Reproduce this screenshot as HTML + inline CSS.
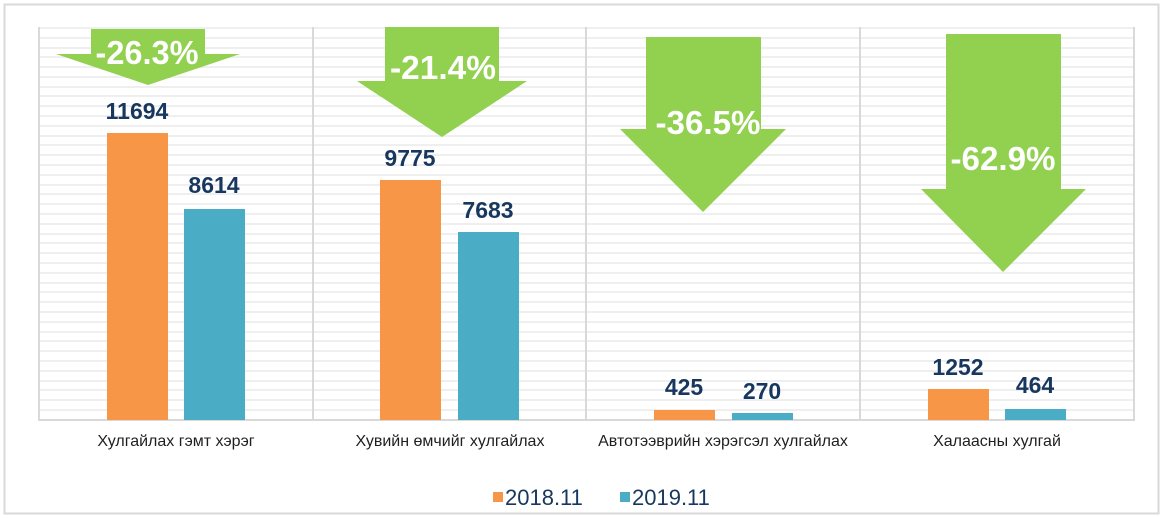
<!DOCTYPE html>
<html><head><meta charset="utf-8"><style>
html,body{margin:0;padding:0;background:#fff;}
svg{display:block;font-family:"Liberation Sans",Arial,sans-serif;}
</style></head><body>
<svg width="1164" height="518" viewBox="0 0 1164 518" xmlns="http://www.w3.org/2000/svg">
<rect x="4.5" y="4.5" width="1154" height="509" fill="#fff" stroke="#d9d9d9" stroke-width="2"/>
<g stroke="#efefef" stroke-width="2">
<line x1="38" x2="1135" y1="28" y2="28"/><line x1="38" x2="1135" y1="38" y2="38"/><line x1="38" x2="1135" y1="48" y2="48"/><line x1="38" x2="1135" y1="57" y2="57"/><line x1="38" x2="1135" y1="67" y2="67"/><line x1="38" x2="1135" y1="77" y2="77"/><line x1="38" x2="1135" y1="87" y2="87"/><line x1="38" x2="1135" y1="96" y2="96"/><line x1="38" x2="1135" y1="106" y2="106"/><line x1="38" x2="1135" y1="116" y2="116"/><line x1="38" x2="1135" y1="126" y2="126"/><line x1="38" x2="1135" y1="136" y2="136"/><line x1="38" x2="1135" y1="145" y2="145"/><line x1="38" x2="1135" y1="155" y2="155"/><line x1="38" x2="1135" y1="165" y2="165"/><line x1="38" x2="1135" y1="175" y2="175"/><line x1="38" x2="1135" y1="185" y2="185"/><line x1="38" x2="1135" y1="194" y2="194"/><line x1="38" x2="1135" y1="204" y2="204"/><line x1="38" x2="1135" y1="214" y2="214"/><line x1="38" x2="1135" y1="224" y2="224"/><line x1="38" x2="1135" y1="234" y2="234"/><line x1="38" x2="1135" y1="243" y2="243"/><line x1="38" x2="1135" y1="253" y2="253"/><line x1="38" x2="1135" y1="263" y2="263"/><line x1="38" x2="1135" y1="273" y2="273"/><line x1="38" x2="1135" y1="283" y2="283"/><line x1="38" x2="1135" y1="292" y2="292"/><line x1="38" x2="1135" y1="302" y2="302"/><line x1="38" x2="1135" y1="312" y2="312"/><line x1="38" x2="1135" y1="322" y2="322"/><line x1="38" x2="1135" y1="332" y2="332"/><line x1="38" x2="1135" y1="341" y2="341"/><line x1="38" x2="1135" y1="351" y2="351"/><line x1="38" x2="1135" y1="361" y2="361"/><line x1="38" x2="1135" y1="371" y2="371"/><line x1="38" x2="1135" y1="381" y2="381"/><line x1="38" x2="1135" y1="390" y2="390"/><line x1="38" x2="1135" y1="400" y2="400"/><line x1="38" x2="1135" y1="410" y2="410"/>
</g>
<g stroke="#d9d9d9" stroke-width="2">
<line x1="39" x2="39" y1="27" y2="421"/><line x1="313" x2="313" y1="27" y2="421"/><line x1="586" x2="586" y1="27" y2="421"/><line x1="860" x2="860" y1="27" y2="421"/><line x1="1134" x2="1134" y1="27" y2="421"/>
<line x1="38" x2="1135" y1="420" y2="420"/>
</g>
<g fill="#F79646">
<rect x="107" y="133" width="61" height="287"/><rect x="380" y="180" width="61" height="240"/><rect x="654" y="410" width="61" height="10"/><rect x="928" y="389" width="61" height="31"/>
</g>
<g fill="#4BACC6">
<rect x="184" y="209" width="61" height="211"/><rect x="458" y="232" width="61" height="188"/><rect x="732" y="413" width="61" height="7"/><rect x="1005" y="409" width="61" height="11"/>
</g>
<g fill="#92D050">
<polygon points="91,29 205,29 205,54 240,54 148,85 56,54 91,54"/>
<polygon points="385,27 499,27 499,81 527,81 442,137 357,81 385,81"/>
<polygon points="646,37 761,37 761,129 786,129 703,212 620,129 646,129"/>
<polygon points="946,34 1061,34 1061,189 1086,189 1003,272 921,189 946,189"/>
</g>
<g fill="#fff" font-weight="bold" font-size="33" text-anchor="middle">
<text x="147" y="64" textLength="103" lengthAdjust="spacingAndGlyphs">-26.3%</text>
<text x="443" y="79" textLength="106" lengthAdjust="spacingAndGlyphs">-21.4%</text>
<text x="708" y="134" textLength="105" lengthAdjust="spacingAndGlyphs">-36.5%</text>
<text x="1003" y="170" textLength="105" lengthAdjust="spacingAndGlyphs">-62.9%</text>
</g>
<g fill="#17375E" font-weight="bold" font-size="23" text-anchor="middle">
<text x="137" y="119">11694</text><text x="214" y="193">8614</text>
<text x="410" y="166">9775</text><text x="488" y="218">7683</text>
<text x="684" y="395">425</text><text x="762" y="399">270</text>
<text x="958" y="375">1252</text><text x="1035" y="393">464</text>
</g>
<g fill="#1f1f1f" font-size="16" text-anchor="middle">
<text x="176" y="446">Хулгайлах гэмт хэрэг</text>
<text x="450" y="446">Хувийн өмчийг хулгайлах</text>
<text x="723" y="446">Автотээврийн хэрэгсэл хулгайлах</text>
<text x="997" y="446">Халаасны хулгай</text>
</g>
<rect x="493" y="492" width="10" height="10" fill="#F79646"/>
<rect x="620" y="492" width="10" height="10" fill="#4BACC6"/>
<g fill="#17375E" font-size="22">
<text x="505" y="505">2018.11</text><text x="632" y="505">2019.11</text>
</g>
</svg>
</body></html>
